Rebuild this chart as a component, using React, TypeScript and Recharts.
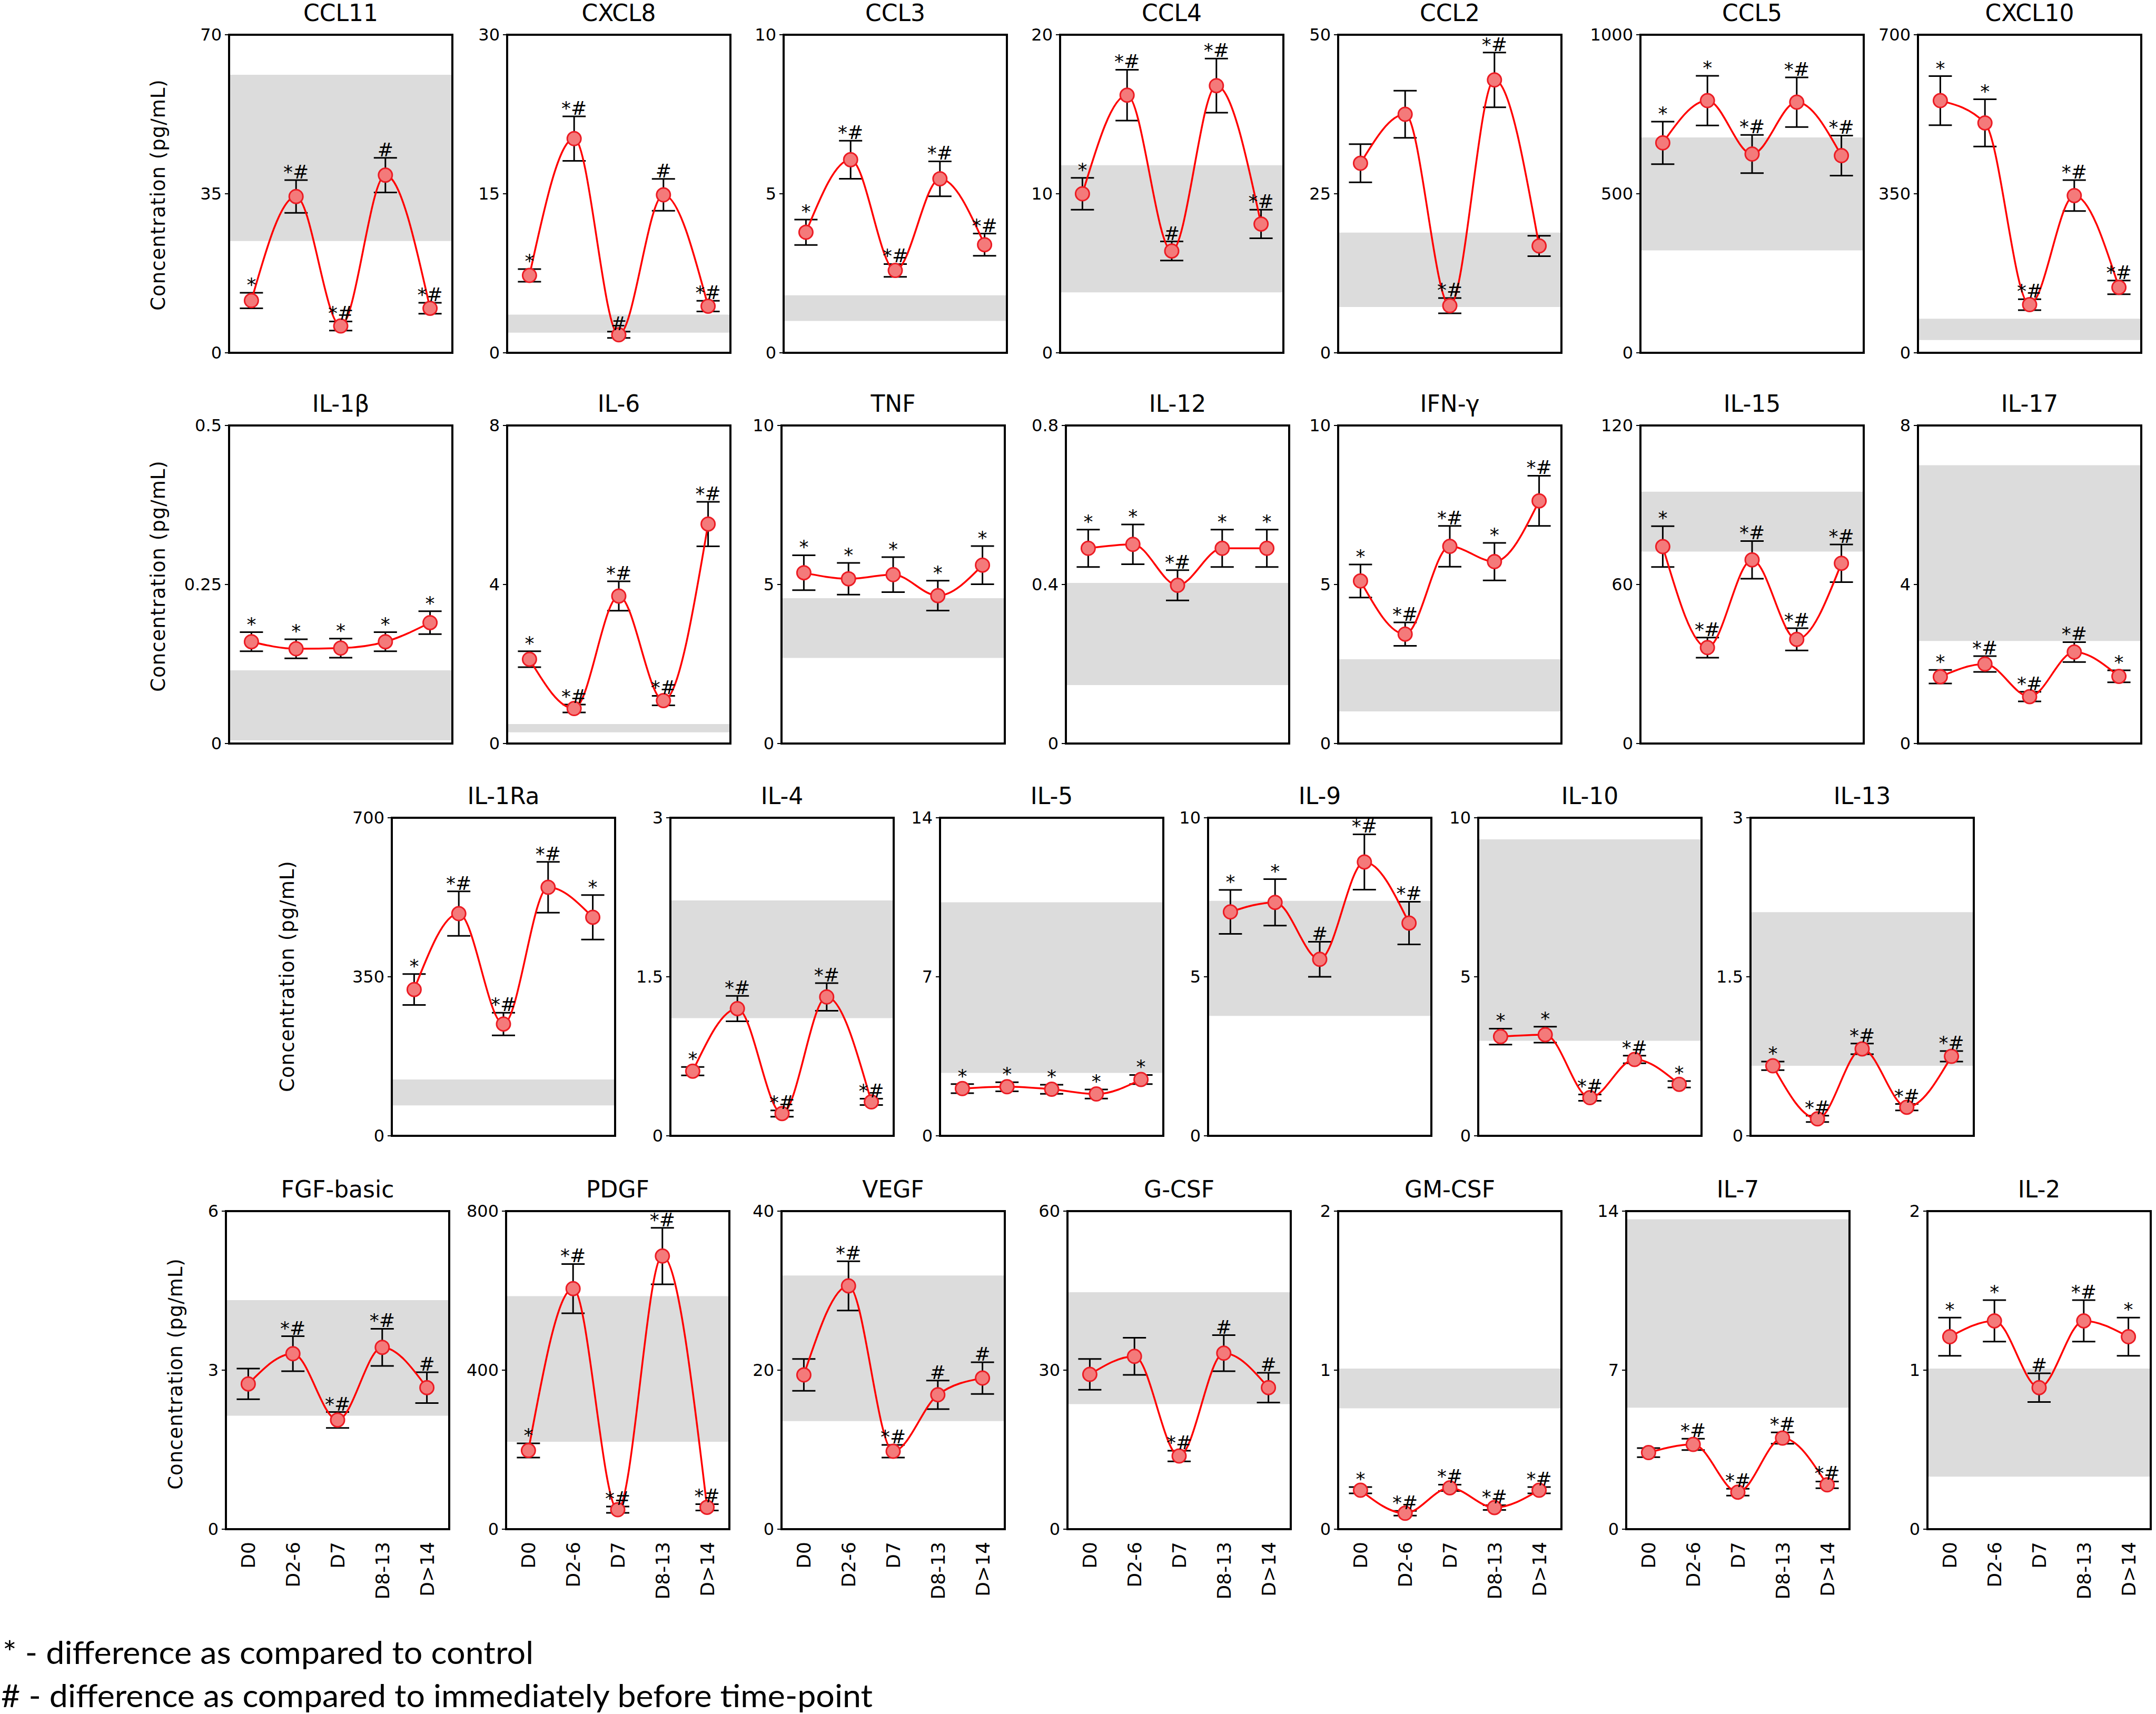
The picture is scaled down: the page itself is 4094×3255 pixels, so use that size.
import React from 'react';
import {
  ComposedChart, Line, XAxis, YAxis, ReferenceArea, ErrorBar, LabelList,
} from 'recharts';

// sampling time-points
const DAYS = ['D0', 'D2-6', 'D7', 'D8-13', 'D>14'];

// ---- row 1: chemokines ----
const ccl11Mean = [11.5, 34.4, 5.9, 39.1, 9.8];
const ccl11Sd = [1.7, 3.6, 1.0, 3.8, 1.2];
const ccl11Ref = [24.6, 61.2];
const ccl11Sig = ['*', '*#', '*#', '#', '*#'];

const cxcl8Mean = [7.3, 20.2, 1.7, 14.9, 4.4];
const cxcl8Sd = [0.6, 2.1, 0.3, 1.5, 0.5];
const cxcl8Ref = [1.9, 3.6];
const cxcl8Sig = ['*', '*#', '#', '#', '*#'];

const ccl3Mean = [3.79, 6.07, 2.59, 5.47, 3.4];
const ccl3Sd = [0.4, 0.6, 0.2, 0.55, 0.35];
const ccl3Ref = [1.0, 1.81];
const ccl3Sig = ['*', '*#', '*#', '*#', '*#'];

const ccl4Mean = [10.0, 16.2, 6.4, 16.8, 8.1];
const ccl4Sd = [1.0, 1.6, 0.6, 1.7, 0.9];
const ccl4Ref = [3.8, 11.8];
const ccl4Sig = ['*', '*#', '#', '*#', '*#'];

const ccl2Mean = [29.8, 37.5, 7.4, 42.9, 16.8];
const ccl2Sd = [3.0, 3.7, 1.2, 4.3, 1.6];
const ccl2Ref = [7.2, 18.9];
const ccl2Sig = ['', '', '*#', '*#', ''];

const ccl5Mean = [660, 793, 625, 788, 620];
const ccl5Sd = [67, 78, 60, 78, 63];
const ccl5Ref = [322, 677];
const ccl5Sig = ['*', '*', '*#', '*#', '*#'];

const cxcl10Mean = [555, 506, 106, 346, 144];
const cxcl10Sd = [54, 52, 12, 34, 15];
const cxcl10Ref = [28, 75];
const cxcl10Sig = ['*', '*', '*#', '*#', '*#'];

// ---- row 2 ----
const il1bMean = [0.16, 0.149, 0.15, 0.16, 0.19];
const il1bSd = [0.015, 0.015, 0.015, 0.015, 0.018];
const il1bRef = [0.005, 0.115];
const il1bSig = ['*', '*', '*', '*', '*'];

const il6Mean = [2.12, 0.88, 3.71, 1.08, 5.52];
const il6Sd = [0.2, 0.1, 0.37, 0.12, 0.56];
const il6Ref = [0.28, 0.49];
const il6Sig = ['*', '*#', '*#', '*#', '*#'];

const tnfMean = [5.37, 5.18, 5.31, 4.65, 5.61];
const tnfSd = [0.55, 0.5, 0.55, 0.47, 0.6];
const tnfRef = [2.69, 4.57];
const tnfSig = ['*', '*', '*', '*', '*'];

const il12Mean = [0.491, 0.501, 0.398, 0.491, 0.491];
const il12Sd = [0.047, 0.05, 0.038, 0.047, 0.047];
const il12Ref = [0.147, 0.404];
const il12Sig = ['*', '*', '*#', '*', '*'];

const ifngMean = [5.11, 3.44, 6.2, 5.72, 7.63];
const ifngSd = [0.52, 0.37, 0.64, 0.59, 0.79];
const ifngRef = [1.01, 2.65];
const ifngSig = ['*', '*#', '*#', '*', '*#'];

const il15Mean = [74.3, 36.2, 69.3, 39.3, 68.0];
const il15Sd = [7.7, 3.8, 7.1, 4.2, 7.1];
const il15Ref = [72.4, 95.0];
const il15Sig = ['*', '*#', '*#', '*#', '*#'];

const il17Mean = [1.68, 2.0, 1.18, 2.3, 1.69];
const il17Sd = [0.17, 0.2, 0.12, 0.25, 0.15];
const il17Ref = [2.58, 7.0];
const il17Sig = ['*', '*#', '*#', '*#', '*'];

// ---- row 3 ----
const il1raMean = [322, 489, 246, 547, 481];
const il1raSd = [34, 49, 25, 56, 49];
const il1raRef = [67, 124];
const il1raSig = ['*', '*#', '*#', '*#', '*'];

const il4Mean = [0.61, 1.2, 0.21, 1.31, 0.32];
const il4Sd = [0.04, 0.12, 0.03, 0.13, 0.03];
const il4Ref = [1.11, 2.22];
const il4Sig = ['*', '*#', '*#', '*#', '*#'];

const il5Mean = [2.08, 2.16, 2.05, 1.84, 2.48];
const il5Sd = [0.2, 0.2, 0.2, 0.2, 0.2];
const il5Ref = [2.77, 10.28];
const il5Sig = ['*', '*', '*', '*', '*'];

const il9Mean = [7.04, 7.34, 5.55, 8.61, 6.69];
const il9Sd = [0.69, 0.73, 0.55, 0.87, 0.67];
const il9Ref = [3.77, 7.39];
const il9Sig = ['*', '*', '#', '*#', '*#'];

const il10Mean = [3.12, 3.18, 1.2, 2.4, 1.62];
const il10Sd = [0.25, 0.25, 0.1, 0.12, 0.1];
const il10Ref = [2.99, 9.32];
const il10Sig = ['*', '*', '*#', '*#', '*'];

const il13Mean = [0.66, 0.16, 0.82, 0.27, 0.75];
const il13Sd = [0.04, 0.03, 0.05, 0.03, 0.05];
const il13Ref = [0.66, 2.11];
const il13Sig = ['*', '*#', '*#', '*#', '*#'];

// ---- row 4: growth factors ----
const fgfMean = [2.74, 3.31, 2.06, 3.43, 2.67];
const fgfSd = [0.29, 0.33, 0.15, 0.35, 0.29];
const fgfRef = [2.14, 4.32];
const fgfSig = ['', '*#', '*#', '*#', '#'];

const pdgfMean = [198, 605, 49, 687, 55];
const pdgfSd = [18, 62, 8, 71, 8];
const pdgfRef = [220, 586];
const pdgfSig = ['*', '*#', '*#', '*#', '*#'];

const vegfMean = [19.4, 30.6, 9.8, 16.9, 19.0];
const vegfSd = [2.0, 3.1, 0.8, 1.8, 2.0];
const vegfRef = [13.6, 31.9];
const vegfSig = ['', '*#', '*#', '#', '#'];

const gcsfMean = [29.2, 32.6, 13.8, 33.2, 26.7];
const gcsfSd = [2.9, 3.5, 1.0, 3.4, 2.8];
const gcsfRef = [23.6, 44.7];
const gcsfSig = ['', '', '*#', '#', '#'];

const gmcsfMean = [0.245, 0.1, 0.26, 0.136, 0.245];
const gmcsfSd = [0.02, 0.015, 0.02, 0.015, 0.02];
const gmcsfRef = [0.76, 1.01];
const gmcsfSig = ['*', '*#', '*#', '*#', '*#'];

const il7Mean = [3.37, 3.73, 1.63, 4.01, 1.95];
const il7Sd = [0.2, 0.25, 0.15, 0.25, 0.15];
const il7Ref = [5.35, 13.64];
const il7Sig = ['', '*#', '*#', '*#', '*#'];

const il2Mean = [1.21, 1.31, 0.89, 1.31, 1.21];
const il2Sd = [0.12, 0.13, 0.09, 0.13, 0.12];
const il2Ref = [0.33, 1.01];
const il2Sig = ['*', '*', '#', '*#', '*'];

const LEGEND_LINES = [
  '* - difference as compared to control',
  '# - difference as compared to immediately before time-point',
];
const Y_LABEL = 'Concentration (pg/mL)';

// layout
const BOX_W = 424;
const BOX_H = 604;
const ROW_TOP = [66, 808, 1553, 2300];
const Y_LABEL_POS = [
  { cx: 300, cy: 370 },
  { cx: 300, cy: 1094 },
  { cx: 545, cy: 1854 },
  { cx: 333, cy: 2609 },
];
const YW = 110;
const MT = 40;
const MR = 10;
const MB = 26;
const XH = 170;

const SANS = '"DejaVu Sans", Verdana, sans-serif';

interface PanelDef {
  name: string;
  max: number;
  mean: number[];
  sd: number[];
  ref: number[];
  sig: string[];
  row: number;
  left: number;
}

const PANELS: PanelDef[] = [
  { name: 'CCL11', max: 70, mean: ccl11Mean, sd: ccl11Sd, ref: ccl11Ref, sig: ccl11Sig, row: 0, left: 435 },
  { name: 'CXCL8', max: 30, mean: cxcl8Mean, sd: cxcl8Sd, ref: cxcl8Ref, sig: cxcl8Sig, row: 0, left: 963 },
  { name: 'CCL3', max: 10, mean: ccl3Mean, sd: ccl3Sd, ref: ccl3Ref, sig: ccl3Sig, row: 0, left: 1488 },
  { name: 'CCL4', max: 20, mean: ccl4Mean, sd: ccl4Sd, ref: ccl4Ref, sig: ccl4Sig, row: 0, left: 2013 },
  { name: 'CCL2', max: 50, mean: ccl2Mean, sd: ccl2Sd, ref: ccl2Ref, sig: ccl2Sig, row: 0, left: 2541 },
  { name: 'CCL5', max: 1000, mean: ccl5Mean, sd: ccl5Sd, ref: ccl5Ref, sig: ccl5Sig, row: 0, left: 3115 },
  { name: 'CXCL10', max: 700, mean: cxcl10Mean, sd: cxcl10Sd, ref: cxcl10Ref, sig: cxcl10Sig, row: 0, left: 3642 },

  { name: 'IL-1β', max: 0.5, mean: il1bMean, sd: il1bSd, ref: il1bRef, sig: il1bSig, row: 1, left: 435 },
  { name: 'IL-6', max: 8, mean: il6Mean, sd: il6Sd, ref: il6Ref, sig: il6Sig, row: 1, left: 963 },
  { name: 'TNF', max: 10, mean: tnfMean, sd: tnfSd, ref: tnfRef, sig: tnfSig, row: 1, left: 1484 },
  { name: 'IL-12', max: 0.8, mean: il12Mean, sd: il12Sd, ref: il12Ref, sig: il12Sig, row: 1, left: 2024 },
  { name: 'IFN-γ', max: 10, mean: ifngMean, sd: ifngSd, ref: ifngRef, sig: ifngSig, row: 1, left: 2541 },
  { name: 'IL-15', max: 120, mean: il15Mean, sd: il15Sd, ref: il15Ref, sig: il15Sig, row: 1, left: 3115 },
  { name: 'IL-17', max: 8, mean: il17Mean, sd: il17Sd, ref: il17Ref, sig: il17Sig, row: 1, left: 3642 },

  { name: 'IL-1Ra', max: 700, mean: il1raMean, sd: il1raSd, ref: il1raRef, sig: il1raSig, row: 2, left: 744 },
  { name: 'IL-4', max: 3, mean: il4Mean, sd: il4Sd, ref: il4Ref, sig: il4Sig, row: 2, left: 1273 },
  { name: 'IL-5', max: 14, mean: il5Mean, sd: il5Sd, ref: il5Ref, sig: il5Sig, row: 2, left: 1785 },
  { name: 'IL-9', max: 10, mean: il9Mean, sd: il9Sd, ref: il9Ref, sig: il9Sig, row: 2, left: 2294 },
  { name: 'IL-10', max: 10, mean: il10Mean, sd: il10Sd, ref: il10Ref, sig: il10Sig, row: 2, left: 2807 },
  { name: 'IL-13', max: 3, mean: il13Mean, sd: il13Sd, ref: il13Ref, sig: il13Sig, row: 2, left: 3324 },

  { name: 'FGF-basic', max: 6, mean: fgfMean, sd: fgfSd, ref: fgfRef, sig: fgfSig, row: 3, left: 429 },
  { name: 'PDGF', max: 800, mean: pdgfMean, sd: pdgfSd, ref: pdgfRef, sig: pdgfSig, row: 3, left: 961 },
  { name: 'VEGF', max: 40, mean: vegfMean, sd: vegfSd, ref: vegfRef, sig: vegfSig, row: 3, left: 1484 },
  { name: 'G-CSF', max: 60, mean: gcsfMean, sd: gcsfSd, ref: gcsfRef, sig: gcsfSig, row: 3, left: 2027 },
  { name: 'GM-CSF', max: 2, mean: gmcsfMean, sd: gmcsfSd, ref: gmcsfRef, sig: gmcsfSig, row: 3, left: 2541 },
  { name: 'IL-7', max: 14, mean: il7Mean, sd: il7Sd, ref: il7Ref, sig: il7Sig, row: 3, left: 3088 },
  { name: 'IL-2', max: 2, mean: il2Mean, sd: il2Sd, ref: il2Ref, sig: il2Sig, row: 3, left: 3660 },
];

function DayTick(props: any) {
  const { x, y, payload } = props;
  return (
    <text
      x={x}
      y={y}
      transform={`rotate(-90 ${x} ${y})`}
      textAnchor="end"
      dy="0.36em"
      fontSize={36}
      fontFamily={SANS}
      fill="#000"
    >
      {payload.value}
    </text>
  );
}

function Panel({ p }: { p: PanelDef }) {
  const data = DAYS.map((day, i) => ({
    day,
    mean: p.mean[i],
    sd: p.sd[i],
    top: p.mean[i] + p.sd[i],
    sig: p.sig[i],
  }));
  const showX = p.row === 3;
  const xh = showX ? XH : 0;
  const mb = showX ? 6 : MB;
  const top = ROW_TOP[p.row];

  return (
    <>
      <div
        style={{
          position: 'absolute',
          left: p.left,
          top: top - 67,
          width: BOX_W,
          height: 52,
          lineHeight: '52px',
          textAlign: 'center',
          fontFamily: SANS,
          fontSize: 44,
          color: '#000',
          whiteSpace: 'nowrap',
        }}
      >
        {p.name}
      </div>
      <div style={{ position: 'absolute', left: p.left - YW, top: top - MT }}>
        <ComposedChart
          width={YW + BOX_W + MR}
          height={MT + BOX_H + mb + xh}
          data={data}
          margin={{ top: MT, right: MR, bottom: mb, left: 0 }}
        >
          <XAxis
            dataKey="day"
            scale="band"
            hide={!showX}
            height={xh || 1}
            interval={0}
            axisLine={false}
            tickLine={false}
            tickSize={0}
            tickMargin={24}
            tick={<DayTick />}
          />
          <YAxis
            type="number"
            domain={[0, p.max]}
            ticks={[0, p.max / 2, p.max]}
            interval={0}
            width={YW}
            axisLine={false}
            tickSize={8}
            tickMargin={6}
            tickLine={{ stroke: '#000', strokeWidth: 2 }}
            tick={{ fontSize: 32, fill: '#000', fontFamily: SANS }}
          />
          <ReferenceArea y1={p.ref[0]} y2={p.ref[1]} fill="#dcdcdc" fillOpacity={1} stroke="none" />
          <ReferenceArea y1={0} y2={p.max} fill="none" stroke="#000" strokeWidth={4} />
          <Line
            dataKey="top"
            stroke="none"
            dot={false}
            activeDot={false}
            legendType="none"
            isAnimationActive={false}
          >
            <LabelList
              dataKey="sig"
              position="top"
              offset={3}
              fill="#000"
              stroke="none"
              fontSize={36}
              fontFamily={SANS}
            />
          </Line>
          <Line
            type="monotone"
            dataKey="mean"
            stroke="#ff0000"
            strokeWidth={3.5}
            dot={{ r: 13, fill: '#f47a7a', stroke: '#ec1c24', strokeWidth: 3 }}
            activeDot={false}
            isAnimationActive={false}
          >
            <ErrorBar dataKey="sd" width={22} strokeWidth={3} stroke="#000" direction="y" />
          </Line>
        </ComposedChart>
      </div>
    </>
  );
}

export default function App() {
  return (
    <div
      style={{
        position: 'absolute',
        left: 0,
        top: 0,
        width: 4094,
        height: 3255,
        background: '#fff',
        overflow: 'hidden',
      }}
    >
      {PANELS.map((p) => (
        <Panel key={p.name} p={p} />
      ))}

      {Y_LABEL_POS.map((pos, i) => (
        <div
          key={i}
          style={{
            position: 'absolute',
            left: pos.cx,
            top: pos.cy,
            transform: 'translate(-50%, -50%) rotate(-90deg)',
            fontFamily: SANS,
            fontSize: 37,
            letterSpacing: 1,
            color: '#000',
            whiteSpace: 'nowrap',
          }}
        >
          {Y_LABEL}
        </div>
      ))}

      <svg
        width={1700}
        height={160}
        style={{ position: 'absolute', left: 0, top: 3100 }}
      >
        <text x={5} y={60} fontFamily="Lato, 'Open Sans', sans-serif" fontSize={60} textLength={1008} lengthAdjust="spacingAndGlyphs">
          {LEGEND_LINES[0]}
        </text>
        <text x={2} y={142} fontFamily="Lato, 'Open Sans', sans-serif" fontSize={60} textLength={1655} lengthAdjust="spacingAndGlyphs">
          {LEGEND_LINES[1]}
        </text>
      </svg>
    </div>
  );
}
